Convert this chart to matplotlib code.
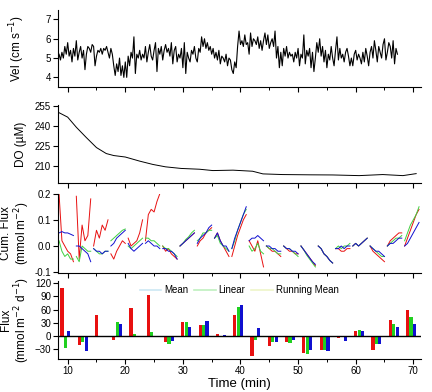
import matplotlib
matplotlib.use('Agg')
import matplotlib.pyplot as plt
from matplotlib.lines import Line2D
from matplotlib.ticker import MultipleLocator
import numpy as np

plt.rcParams['font.family'] = ['Liberation Sans', 'DejaVu Sans']

# ---- velocity (cm/s), every 0.25 min from 8.5 min ----
vel_t0, vel_dt = 8.5, 0.25
vel = [
    5.2, 4.9, 5.3, 5.0, 5.6, 5.2, 5.8, 5.1, 5.4, 4.8, 5.5, 5.1, 5.9, 4.9, 5.3, 5.6, 5.0, 5.4, 4.4, 5.2,
    5.6, 5.5, 5.3, 5.7, 5.6, 4.6, 5.1, 5.4, 5.3, 5.5, 5.2, 5.5, 5.4, 5.6, 5.3, 5.0, 5.5, 5.2, 4.6, 4.1,
    4.7, 4.3, 5.0, 4.1, 4.6, 4.0, 4.8, 4.0, 5.1, 4.6, 5.3, 5.0, 6.1, 4.2, 5.2, 5.0, 5.4, 4.9, 5.2, 5.0,
    5.6, 4.8, 5.3, 5.7, 5.1, 4.9, 5.4, 5.8, 4.3, 5.5, 5.2, 5.6, 4.9, 5.4, 5.7, 5.3, 5.5, 5.1, 5.8, 4.7,
    5.4, 5.6, 4.8, 5.2, 5.0, 5.5, 4.5, 5.8, 4.2, 5.3, 5.0, 4.8, 5.4, 5.2, 5.6, 5.0, 4.8, 5.5, 5.3, 6.1,
    5.6, 6.0, 5.5, 5.8, 5.4, 5.6, 5.2, 5.5, 5.0, 5.3, 4.9, 5.4, 4.7, 5.1, 5.0, 4.8, 5.2, 4.6, 5.0, 4.9,
    4.4, 4.2, 4.8, 4.5, 5.6, 6.4, 5.7, 5.9, 5.6, 6.2, 5.7, 5.8, 5.2, 6.3, 5.6, 6.0, 5.9, 5.7, 6.1, 5.5,
    5.9, 5.4, 5.9, 6.3, 5.7, 6.2, 5.5, 5.8, 6.0, 5.6, 6.4, 5.0, 5.6, 4.5, 5.3, 4.6, 5.5, 5.1, 5.6, 5.0,
    5.3, 5.1, 5.2, 4.8, 5.3, 5.0, 5.5, 4.6, 5.2, 5.0, 6.2, 4.7, 5.4, 5.1, 5.5, 4.5, 5.3, 4.3, 5.0, 5.8,
    5.3, 6.0, 5.1, 5.6, 4.8, 5.4, 4.5, 5.2, 4.9, 5.6, 5.0, 4.6, 5.4, 6.1, 4.9, 5.5, 5.0, 5.2, 4.8, 5.3,
    5.5, 5.1, 4.6, 5.0, 4.6, 5.2, 5.4, 4.9, 5.2, 5.0, 4.7, 5.3, 4.8, 5.5, 5.1, 4.6, 5.3, 5.6, 5.0, 5.9,
    5.4, 4.8, 5.6, 5.3, 5.0, 5.7, 6.0, 4.9, 5.3, 5.8, 5.6, 5.0, 5.9, 4.7, 5.5, 5.2,
]

# ---- dissolved oxygen (uM) ----
do_t = [8.3, 10, 11.5, 13.2, 15, 16.7, 18, 20, 22.5, 24.8, 27, 29.7, 32.9, 35.2, 38.7, 42.1,
        43.9, 47.3, 52, 56, 60.6, 64.7, 68.2, 70.5]
do_v = [250.7, 246.9, 239.3, 231.7, 224.0, 219.5, 218.0, 216.9, 213.8, 211.3, 209.5, 208.3,
        207.7, 206.7, 207.0, 206.2, 204.2, 203.7, 203.5, 203.4, 202.9, 203.7, 202.9, 204.4]

# ---- cumulative flux (mmol/m2), 21 windows of 3 min, points every 0.5 min ----
win_start = [8.5 + 3 * k for k in range(21)]
cum_red = [
    [0.2, 0.02, 0.0, -0.02, -0.03, -0.06],
    [0.19, -0.05, 0.08, 0.02, 0.04, 0.18],
    [0.0, 0.06, 0.03, 0.08, 0.06, 0.1],
    [-0.03, -0.05, -0.02, 0.0, 0.02, 0.01],
    [0.03, 0.0, 0.01, 0.02, 0.05, 0.1],
    [0.02, 0.12, 0.14, 0.13, 0.17, 0.2],
    [0.0, -0.02, -0.01, -0.03, -0.04, -0.05],
    [0.0, 0.01, 0.02, 0.03, 0.04, 0.05],
    [0.0, 0.02, 0.03, 0.05, 0.06, 0.07],
    [0.03, 0.05, 0.02, 0.0, -0.02, -0.04],
    [-0.04, 0.0, 0.04, 0.07, 0.1, 0.12],
    [0.02, 0.0, -0.02, 0.02, -0.03, -0.08],
    [0.0, -0.01, -0.02, -0.02, -0.03, -0.04],
    [0.0, -0.01, -0.02, -0.02, -0.03, -0.03],
    [0.0, -0.015, -0.03, -0.045, -0.06, -0.075],
    [0.0, -0.01, -0.03, -0.04, -0.055, -0.065],
    [-0.01, -0.01, -0.02, -0.02, -0.01, -0.01],
    [0.0, 0.01, 0.0, 0.01, 0.02, 0.03],
    [0.0, -0.02, -0.03, -0.04, -0.05, -0.06],
    [0.0, 0.02, 0.03, 0.04, 0.05, 0.05],
    [0.0, 0.03, 0.06, 0.09, 0.12, 0.14],
]
cum_green = [
    [0.02, -0.02, -0.04, -0.03, -0.05, -0.05],
    [-0.04, -0.06, 0.0, -0.01, -0.02, -0.02],
    [-0.01, -0.02, -0.03, -0.03, -0.02, -0.02],
    [0.02, 0.03, 0.04, 0.05, 0.06, 0.065],
    [0.0, -0.01, 0.0, 0.01, 0.02, 0.03],
    [0.03, 0.03, 0.02, 0.02, 0.01, 0.0],
    [0.0, -0.01, -0.01, -0.02, -0.03, -0.04],
    [0.0, 0.01, 0.025, 0.035, 0.05, 0.06],
    [0.02, 0.03, 0.05, 0.05, 0.06, 0.06],
    [0.03, 0.04, 0.01, 0.0, -0.01, -0.02],
    [-0.01, 0.02, 0.06, 0.09, 0.12, 0.14],
    [0.0, -0.02, -0.01, 0.01, -0.02, -0.03],
    [0.0, -0.01, -0.01, -0.02, -0.03, -0.03],
    [0.0, -0.01, -0.01, -0.02, -0.03, -0.04],
    [0.0, -0.015, -0.035, -0.05, -0.065, -0.08],
    [0.0, -0.01, -0.03, -0.04, -0.055, -0.065],
    [-0.01, 0.0, -0.01, 0.0, 0.0, 0.01],
    [0.0, 0.01, 0.0, 0.01, 0.02, 0.03],
    [0.0, -0.01, -0.02, -0.03, -0.04, -0.04],
    [0.0, 0.01, 0.02, 0.03, 0.03, 0.04],
    [0.02, 0.05, 0.08, 0.1, 0.12, 0.15],
]
cum_blue = [
    [0.05, 0.055, 0.05, 0.05, 0.045, 0.04],
    [0.0, 0.0, -0.01, -0.02, -0.03, -0.06],
    [-0.01, -0.02, -0.02, -0.03, -0.02, -0.02],
    [0.0, 0.01, 0.03, 0.04, 0.05, 0.06],
    [0.01, -0.01, -0.02, -0.01, 0.0, 0.01],
    [0.01, 0.02, 0.01, 0.0, 0.0, -0.01],
    [-0.01, -0.01, -0.02, -0.02, -0.03, -0.05],
    [0.0, 0.01, 0.02, 0.03, 0.04, 0.05],
    [0.01, 0.03, 0.04, 0.05, 0.07, 0.08],
    [0.03, 0.05, 0.02, 0.0, 0.0, -0.02],
    [-0.01, 0.03, 0.06, 0.09, 0.12, 0.15],
    [0.02, 0.03, 0.03, 0.04, 0.03, 0.02],
    [0.0, 0.0, -0.01, -0.01, -0.02, -0.02],
    [0.0, -0.01, -0.01, -0.02, -0.02, -0.03],
    [0.0, -0.015, -0.03, -0.045, -0.06, -0.07],
    [0.0, -0.01, -0.03, -0.04, -0.055, -0.065],
    [-0.01, -0.01, 0.0, -0.01, 0.0, 0.0],
    [0.0, 0.01, 0.0, 0.01, 0.02, 0.03],
    [0.0, -0.01, -0.02, -0.02, -0.03, -0.04],
    [0.0, 0.01, 0.01, 0.02, 0.03, 0.03],
    [0.0, 0.01, 0.03, 0.05, 0.07, 0.09],
]

# ---- flux per window (mmol m-2 d-1) ----
flux_t = [9.6 + 3 * k for k in range(21)]
flux_red = [109, -20, 48, -10, 63, 94, -15, 31, 25, 4, 48, -45, -24, -14, -39, -33, -6, 11, -33, 36, 59]
flux_green = [-28, -14, -2, 32, 3, 8, -18, 32, 25, 0, 65, -10, -15, -16, -41, -33, -2, 13, -19, 27, 44]
flux_blue = [11, -35, -2, 27, 0, 0, -12, 19, 34, 2, 71, 18, -14, -10, -33, -35, -12, 11, -18, 21, 27]

RED, GREEN, BLUE = '#e81010', '#20d020', '#1010d0'

fig = plt.figure(figsize=(4.32, 3.92), dpi=100)
left, width = 0.134, 0.84
ax1 = fig.add_axes([left, 0.778, width, 0.197])
ax2 = fig.add_axes([left, 0.532, width, 0.200])
ax3 = fig.add_axes([left, 0.303, width, 0.203])
ax4 = fig.add_axes([left, 0.083, width, 0.200])

vel_time = vel_t0 + vel_dt * np.arange(len(vel))
ax1.plot(vel_time, vel, color='black', linewidth=0.8)
ax1.set_ylim(3.5, 7.5)
ax1.yaxis.set_major_locator(MultipleLocator(1))

ax2.plot(do_t, do_v, color='black', linewidth=0.7)
ax2.set_ylim(197, 256)
ax2.set_yticks([210, 225, 240, 255])

for k, t0 in enumerate(win_start):
    tw = t0 + 0.5 * np.arange(6)
    ax3.plot(tw, cum_red[k], color=RED, linewidth=0.7)
    ax3.plot(tw, cum_green[k], color='#40d040', linewidth=0.7)
    ax3.plot(tw, cum_blue[k], color=BLUE, linewidth=0.7)
ax3.set_ylim(-0.104, 0.2)
ax3.set_yticks([-0.1, 0.0, 0.1, 0.2])
ax3.set_yticklabels(['-0.1', '0.0', '0.1', '0.2'])

w = 0.55
ft = np.array(flux_t)
ax4.bar(ft - 0.6, flux_red, width=w, color=RED)
ax4.bar(ft, flux_green, width=w, color=GREEN)
ax4.bar(ft + 0.6, flux_blue, width=w, color=BLUE)
ax4.axhline(0, color='black', linewidth=1)
ax4.set_ylim(-54, 125)
ax4.set_yticks([-30, 0, 30, 60, 90, 120])
handles = [Line2D([], [], color='#cce8f4', lw=1.2),
           Line2D([], [], color='#bff0bf', lw=1.2),
           Line2D([], [], color='#eef5c8', lw=1.2)]
ax4.legend(handles, ['Mean', 'Linear', 'Running Mean'], ncol=3, frameon=False,
           fontsize=7, loc='center', bbox_to_anchor=(0.5, 0.88),
           handlelength=2.2, columnspacing=0.6, handletextpad=0.3)
ax4.set_xlabel('Time (min)', fontsize=9.5, labelpad=1)

labels = ['Vel (cm s$^{-1}$)', 'DO (\u00b5M)', 'Cum. Flux\n(mmol m$^{-2}$)',
          'Flux\n(mmol m$^{-2}$ d$^{-1}$)']
label_x = [-0.085, -0.085, -0.07, -0.07]
for ax, lab, lx in zip([ax1, ax2, ax3, ax4], labels, label_x):
    ax.set_xlim(8.3, 71.3)
    ax.xaxis.set_major_locator(MultipleLocator(10))
    ax.xaxis.set_minor_locator(MultipleLocator(5))
    ax.spines['top'].set_visible(False)
    ax.spines['right'].set_visible(False)
    ax.tick_params(direction='out', length=3.5, width=0.8, labelsize=7, pad=1.5)
    ax.tick_params(which='minor', direction='out', length=2, width=0.7)
    ax.set_ylabel(lab, fontsize=8.5, linespacing=1.05)
    ax.yaxis.set_label_coords(lx, 0.5)
    if ax is not ax4:
        ax.tick_params(labelbottom=False)

fig.savefig('out.png', dpi=100)
